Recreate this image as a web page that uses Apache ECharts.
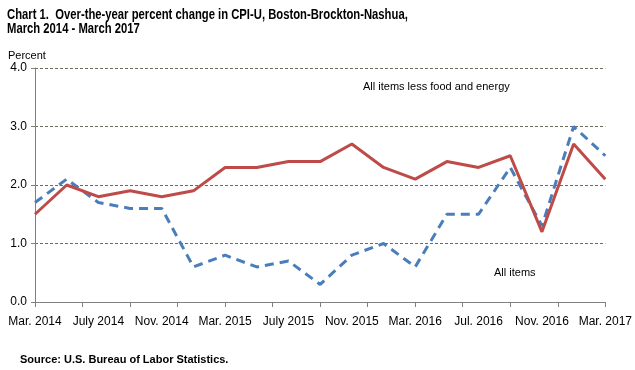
<!DOCTYPE html>
<html><head><meta charset="utf-8">
<script src="https://cdn.jsdelivr.net/npm/echarts@6/dist/echarts.min.js"></script>
<style>html,body{margin:0;padding:0;background:#fff}#c{width:635px;height:370px}</style>
</head><body><div id="c"></div>
<script>
// Monthly categories, Mar. 2014 – Mar. 2017 (labels shown every 4 months)
const months = ['Mar. 2014','Apr. 2014','May 2014','June 2014','July 2014','Aug. 2014','Sep. 2014','Oct. 2014','Nov. 2014','Dec. 2014',
  'Jan. 2015','Feb. 2015','Mar. 2015','Apr. 2015','May 2015','June 2015','July 2015','Aug. 2015','Sep. 2015','Oct. 2015','Nov. 2015','Dec. 2015',
  'Jan. 2016','Feb. 2016','Mar. 2016','Apr. 2016','May 2016','June 2016','Jul. 2016','Aug. 2016','Sep. 2016','Oct. 2016','Nov. 2016','Dec. 2016',
  'Jan. 2017','Feb. 2017','Mar. 2017'];
// Bimonthly published values (Mar, May, Jul, Sep, Nov, Jan ...)
const dataMonths = ['Mar. 2014','May 2014','July 2014','Sep. 2014','Nov. 2014','Jan. 2015','Mar. 2015','May 2015','July 2015','Sep. 2015',
  'Nov. 2015','Jan. 2016','Mar. 2016','May 2016','Jul. 2016','Sep. 2016','Nov. 2016','Jan. 2017','Mar. 2017'];
const allItems = [1.7, 2.1, 1.7, 1.6, 1.6, 0.6, 0.8, 0.6, 0.7, 0.3, 0.8, 1.0, 0.6, 1.5, 1.5, 2.3, 1.3, 3.0, 2.5];
const coreItems = [1.5, 2.0, 1.8, 1.9, 1.8, 1.9, 2.3, 2.3, 2.4, 2.4, 2.7, 2.3, 2.1, 2.4, 2.3, 2.5, 1.2, 2.7, 2.1];
const yTicks = [0, 1, 2, 3, 4];

const toPairs = vals => dataMonths.map((m, i) => [m, vals[i]]);

const chart = echarts.init(document.getElementById('c'), null, {renderer: 'canvas'});
const font = 'Arial, "Liberation Sans", sans-serif';
chart.setOption({
  animation: false,
  backgroundColor: '#fff',
  title: [
    {text: 'Percent', left: 3, top: 45, textStyle: {fontFamily: font, fontWeight: 'normal', fontSize: 11, color: '#000'}},
    {text: 'Source: U.S. Bureau of Labor Statistics.', left: 15, top: 349, textStyle: {fontFamily: font, fontWeight: 'bold', fontSize: 11, color: '#000'}}
  ],
  grid: {left: 35, right: 28, top: 68, bottom: 68, containLabel: false},
  xAxis: {
    type: 'category', data: months, boundaryGap: false,
    axisLine: {lineStyle: {color: '#808080', width: 1}},
    axisTick: {interval: 2, length: 5, lineStyle: {color: '#808080'}},
    axisLabel: {interval: 3, color: '#000', fontFamily: font, fontSize: 12, margin: 14},
    splitLine: {show: false}
  },
  yAxis: {
    type: 'value', min: yTicks[0], max: yTicks[yTicks.length - 1], interval: 1,
    axisLine: {show: true, lineStyle: {color: '#808080'}},
    axisTick: {show: true, length: 4, lineStyle: {color: '#808080'}},
    axisLabel: {color: '#000', fontFamily: font, fontSize: 12, margin: 8, formatter: v => v.toFixed(1)},
    splitLine: {show: true, lineStyle: {color: '#6b6b5a', type: [3, 2], width: 1}}
  },
  series: [
    {name: 'All items', type: 'line', data: toPairs(allItems), connectNulls: true, symbol: 'none',
     lineStyle: {color: '#4a7ebb', width: 3, type: [9, 6]}, z: 2},
    {name: 'All items less food and energy', type: 'line', data: toPairs(coreItems), connectNulls: true, symbol: 'none',
     lineStyle: {color: '#be4b48', width: 3}, z: 3}
  ],
  graphic: [
    {type: 'text', x: 7, y: 8, scaleX: 0.805, style: {text: 'Chart 1.  Over-the-year percent change in CPI-U, Boston-Brockton-Nashua,\nMarch 2014 - March 2017',
      font: 'bold 14px Arial, "Liberation Sans", sans-serif', lineHeight: 14, fill: '#000'}},
    {type: 'text', left: 363, top: 81, style: {text: 'All items less food and energy', font: '11px Arial, "Liberation Sans", sans-serif', fill: '#000'}},
    {type: 'text', left: 494, top: 267, style: {text: 'All items', font: '11px Arial, "Liberation Sans", sans-serif', fill: '#000'}}
  ]
});
</script></body></html>
